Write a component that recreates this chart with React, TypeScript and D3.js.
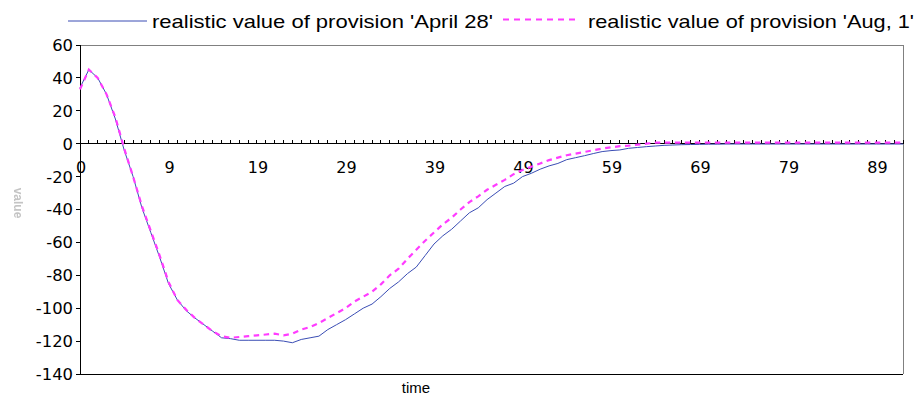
import React from "react";
import * as d3 from "d3";

// Time categories (the first two readings are both at t = 0)
const time = [
  0, 0, 1, 2, 3, 4, 5, 6, 7, 8, 9, 10, 11, 12, 13, 14, 15, 16, 17, 18, 19, 20,
  21, 22, 23, 24, 25, 26, 27, 28, 29, 30, 31, 32, 33, 34, 35, 36, 37, 38, 39, 40,
  41, 42, 43, 44, 45, 46, 47, 48, 49, 50, 51, 52, 53, 54, 55, 56, 57, 58, 59, 60,
  61, 62, 63, 64, 65, 66, 67, 68, 69, 70, 71, 72, 73, 74, 75, 76, 77, 78, 79, 80,
  81, 82, 83, 84, 85, 86, 87, 88, 89, 90, 91, 92,
];

// realistic value of provision 'April 28'
const april28 = [
  34, 45, 40, 30, 15, -4, -20, -39, -54, -69, -85, -95, -101.5, -106, -110, -114,
  -118, -118.5, -119.5, -119.5, -119.5, -119.5, -119.5, -120, -121, -119, -118,
  -117, -113, -110, -107, -103.5, -100, -97.5, -93, -88, -84, -79, -75, -68, -61,
  -56, -52, -47, -42, -39, -34, -30, -26, -24, -20, -18, -15.5, -13.5, -12, -9.7,
  -8.5, -7.3, -6, -4.8, -4.2, -3.8, -2.8, -2.3, -1.8, -1.4, -1, -0.8, -0.6, -0.5,
  -0.4, -0.3, -0.3, -0.2, -0.2, -0.2, -0.2, -0.2, -0.2, -0.2, -0.2, -0.2, -0.2,
  -0.2, -0.2, -0.2, -0.2, -0.2, -0.2, -0.2, -0.2, -0.2, -0.2, -0.2,
];

// realistic value of provision 'Aug, 1'
const aug1 = [
  33, 45, 40, 30, 16, -3, -20, -38, -53, -68, -84, -95, -101, -106, -110, -114,
  -117, -118, -117.5, -117, -116.5, -116, -115.5, -116.5, -115.5, -113, -111.5,
  -109, -106, -103, -100, -96, -93, -90, -85.5, -80, -76, -70, -64.5, -59, -54,
  -49, -45, -40, -35.5, -32, -28, -25, -22, -18.5, -16, -14, -12, -10, -8.5, -7,
  -6, -5, -4, -3, -2.2, -1.5, -1.2, -0.6, 0, 0.6, 0.6, 0.6, 0.6, 0.6, 0.6, 0.6,
  0.6, 0.6, 0.6, 0.6, 0.6, 0.6, 0.6, 0.6, 0.6, 0.6, 0.6, 0.6, 0.6, 0.6, 0.6, 0.6,
  0.6, 0.6, 0.6, 0.6, 0.6, 0.6,
];

const yTicks = [60, 40, 20, 0, -20, -40, -60, -80, -100, -120, -140];
const xLabelIndices = [0, 10, 20, 30, 40, 50, 60, 70, 80, 90];

const seriesNames = [
  "realistic value of provision 'April 28'",
  "realistic value of provision 'Aug, 1'",
];

const W = 917;
const H = 398;
const left = 80;
const right = 903;
const top = 45;
const bottom = 374;

const BLUE = "#3a4db4";
const MAGENTA = "#ff3cff";
const AXIS_FONT = "'DejaVu Sans', Verdana, sans-serif";
const TEXT_FONT = "'Liberation Sans', Arial, sans-serif";

export default function App() {
  const idx = d3.range(time.length);
  const x = d3.scaleLinear().domain([0, time.length - 1]).range([left, right]);
  const y = d3.scaleLinear().domain([-140, 60]).range([bottom, top]);
  const y0 = y(0);

  const line = d3
    .line<number>()
    .x((_, i) => x(i))
    .y((d) => y(d));

  return (
    <svg
      width={W}
      height={H}
      style={{ position: "absolute", left: 0, top: 0, background: "#fff" }}
    >
      <defs>
        <filter id="soft" x="-50%" y="-50%" width="200%" height="200%">
          <feGaussianBlur stdDeviation="0.45" />
        </filter>
      </defs>

      {/* plot frame */}
      <g shapeRendering="crispEdges">
        <line x1={left} x2={right} y1={top} y2={top} stroke="#808080" />
        <line x1={right} x2={right} y1={top} y2={bottom} stroke="#808080" />
        <line x1={left} x2={right} y1={bottom} y2={bottom} stroke="#000" />
      </g>

      {/* value axis */}
      <g shapeRendering="crispEdges">
        <line x1={left} x2={left} y1={top} y2={bottom} stroke="#000" />
        {yTicks.map((t) => (
          <line key={t} x1={left - 4} x2={left} y1={y(t)} y2={y(t)} stroke="#000" />
        ))}
      </g>
      {yTicks.map((t) => (
        <text
          key={t}
          x={73}
          y={y(t)}
          dy="0.36em"
          textAnchor="end"
          fontFamily={AXIS_FONT}
          fontSize={16.4}
          fill="#000"
        >
          {t}
        </text>
      ))}

      {/* category axis at zero */}
      <g shapeRendering="crispEdges">
        <line x1={left} x2={right} y1={y0} y2={y0} stroke="#000" />
        {idx.slice(1).map((i) => (
          <line key={i} x1={x(i)} x2={x(i)} y1={y0 - 4} y2={y0} stroke="#000" />
        ))}
      </g>
      {xLabelIndices.map((i) => (
        <text
          key={i}
          x={x(i) + 1}
          y={173}
          textAnchor="middle"
          fontFamily={AXIS_FONT}
          fontSize={16}
          fill="#000"
        >
          {time[i]}
        </text>
      ))}

      {/* series */}
      <path d={line(april28) ?? ""} fill="none" stroke={BLUE} strokeWidth={1} />
      <path
        d={line(aug1) ?? ""}
        fill="none"
        stroke={MAGENTA}
        strokeWidth={2.2}
        strokeDasharray="5.5,4.5"
      />

      {/* axis titles */}
      <text
        x={416}
        y={393}
        textAnchor="middle"
        fontFamily={TEXT_FONT}
        fontSize={15}
        fill="#000"
      >
        time
      </text>
      <text
        transform="translate(14,203) rotate(90)"
        textAnchor="middle"
        fontFamily={TEXT_FONT}
        fontSize={12}
        fontWeight="bold"
        fill="#c4c4c4"
        filter="url(#soft)"
      >
        value
      </text>

      {/* legend */}
      <line x1={68} x2={147} y1={21} y2={21} stroke={BLUE} strokeWidth={1} />
      <text
        x={152}
        y={28}
        fontFamily={TEXT_FONT}
        fontSize={19}
        textLength={341}
        lengthAdjust="spacingAndGlyphs"
        fill="#000"
      >
        {seriesNames[0]}
      </text>
      <line
        x1={503}
        x2={579}
        y1={19.5}
        y2={19.5}
        stroke={MAGENTA}
        strokeWidth={2.2}
        strokeDasharray="6,5"
      />
      <text
        x={588}
        y={28}
        fontFamily={TEXT_FONT}
        fontSize={19}
        textLength={326}
        lengthAdjust="spacingAndGlyphs"
        fill="#000"
      >
        {seriesNames[1]}
      </text>
    </svg>
  );
}
